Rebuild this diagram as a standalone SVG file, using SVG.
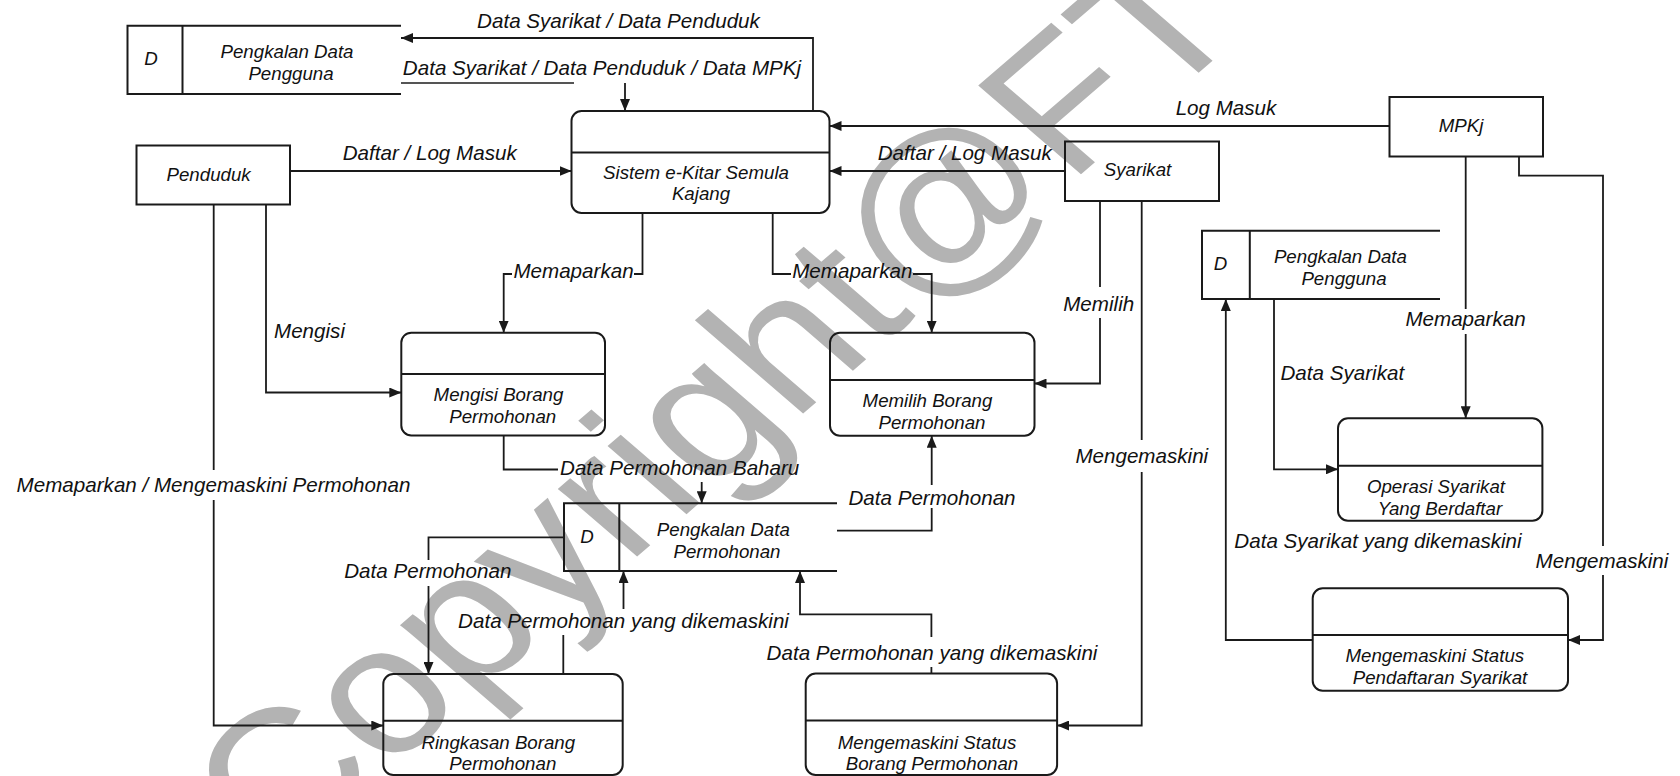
<svg xmlns="http://www.w3.org/2000/svg" width="1680" height="776" viewBox="0 0 1680 776">
<defs>
<style>
.ln{fill:none;stroke:#1a1a1a;stroke-width:1.8}
.bx{fill:none;stroke:#1a1a1a;stroke-width:2}
.nt{font-family:"Liberation Sans",Arial,sans-serif;font-style:italic;font-size:18.7px;fill:#111;text-anchor:middle}
.lb{font-family:"Liberation Sans",Arial,sans-serif;font-style:italic;font-size:20.6px;fill:#111;text-anchor:middle}
.wm{font-family:"Liberation Sans",Arial,sans-serif;font-size:182px;fill:#b3b3b3}
</style>
<marker id="ah" markerWidth="12" markerHeight="10" refX="12" refY="5" orient="auto" markerUnits="userSpaceOnUse"><path d="M0,0 L12,5 L0,10 z" fill="#1a1a1a"/></marker>
</defs>
<rect x="0" y="0" width="1680" height="776" fill="#fff"/>
<g id="watermark"><text class="wm" transform="scale(1.16,1) translate(240,866) rotate(-45)" x="0" y="0">Copyright@FT</text></g>

<g id="store-pengguna-1">
<path class="bx" d="M401,25.7 H127.5 V94 H401 M182.5,25.7 V94"/>
<text class="nt" x="151" y="65">D</text>
<text class="nt" x="287" y="58.3">Pengkalan Data</text>
<text class="nt" x="291" y="79.5">Pengguna</text>
</g>
<g id="sistem">
<rect class="bx" x="571.5" y="111" width="258" height="102" rx="10"/>
<path class="bx" d="M571.5,152.5 H829.5"/>
<text class="nt" x="696" y="178.5">Sistem e-Kitar Semula</text>
<text class="nt" x="701" y="200">Kajang</text>
</g>
<g id="penduduk">
<rect class="bx" x="136.5" y="145.5" width="153.5" height="59"/>
<text class="nt" x="208.6" y="181">Penduduk</text>
</g>
<g id="syarikat">
<rect class="bx" x="1065" y="141.5" width="154" height="59.5"/>
<text class="nt" x="1137.5" y="176">Syarikat</text>
</g>
<g id="mpkj">
<rect class="bx" x="1389.5" y="97" width="153.5" height="59.5"/>
<text class="nt" x="1461" y="132">MPKj</text>
</g>
<g id="mengisi">
<rect class="bx" x="401.3" y="332.7" width="203.7" height="102.8" rx="10"/>
<path class="bx" d="M401.3,374 H605"/>
<text class="nt" x="498.5" y="400.7">Mengisi Borang</text>
<text class="nt" x="502.7" y="422.7">Permohonan</text>
</g>
<g id="memilih">
<rect class="bx" x="830" y="332.7" width="204.5" height="103" rx="10"/>
<path class="bx" d="M830,380 H1034.5"/>
<text class="nt" x="927.5" y="406.7">Memilih Borang</text>
<text class="nt" x="932" y="428.5">Permohonan</text>
</g>
<g id="store-permohonan">
<path class="bx" d="M837,503.3 H564 V571 H837 M619.3,503.3 V571"/>
<text class="nt" x="587" y="542.5">D</text>
<text class="nt" x="723.3" y="536">Pengkalan Data</text>
<text class="nt" x="727" y="558">Permohonan</text>
</g>
<g id="ringkasan">
<rect class="bx" x="383.3" y="674" width="239.4" height="101" rx="10"/>
<path class="bx" d="M383.3,720.7 H622.7"/>
<text class="nt" x="498.3" y="748.7">Ringkasan Borang</text>
<text class="nt" x="502.8" y="770">Permohonan</text>
</g>
<g id="status-borang">
<rect class="bx" x="805.7" y="673.5" width="251.4" height="101.5" rx="10"/>
<path class="bx" d="M805.7,720.5 H1057.1"/>
<text class="nt" x="927" y="748.5">Mengemaskini Status</text>
<text class="nt" x="932" y="770">Borang Permohonan</text>
</g>
<g id="store-pengguna-2">
<path class="bx" d="M1440,230.7 H1202 V299 H1440 M1249.8,230.7 V299"/>
<text class="nt" x="1220.5" y="270">D</text>
<text class="nt" x="1340.4" y="263.3">Pengkalan Data</text>
<text class="nt" x="1344" y="285">Pengguna</text>
</g>
<g id="operasi">
<rect class="bx" x="1338" y="418.3" width="204.4" height="102.4" rx="10"/>
<path class="bx" d="M1338,465.7 H1542.4"/>
<text class="nt" x="1436" y="492.5">Operasi Syarikat</text>
<text class="nt" x="1440" y="514.5">Yang Berdaftar</text>
</g>
<g id="status-pendaftaran">
<rect class="bx" x="1312.7" y="588.3" width="255.3" height="102.4" rx="10"/>
<path class="bx" d="M1312.7,635 H1568"/>
<text class="nt" x="1434.8" y="662">Mengemaskini Status</text>
<text class="nt" x="1440" y="684">Pendaftaran Syarikat</text>
</g>

<g id="connectors">
<path class="ln" d="M813,111 V38 H401" marker-end="url(#ah)"/>
<path d="M401,83 H574" fill="none" stroke="#555" stroke-width="1.8"/>
<path class="ln" d="M625,83 V111" marker-end="url(#ah)"/>
<path class="ln" d="M290,171 H571.5" marker-end="url(#ah)"/>
<path class="ln" d="M1389.5,126 H829.5" marker-end="url(#ah)"/>
<path class="ln" d="M1065,171 H829.5" marker-end="url(#ah)"/>
<path class="ln" d="M642.5,213 V274 H634 M512,274 H503.7 V332.7" marker-end="url(#ah)"/>
<path class="ln" d="M772.7,213 V274 H791 M913,274 H931.7 V332.7" marker-end="url(#ah)"/>
<path class="ln" d="M266,204.5 V392.5 H401.3" marker-end="url(#ah)"/>
<path class="ln" d="M213.7,204.5 V470 M213.7,500 V725.5 H383.3" marker-end="url(#ah)"/>
<path class="ln" d="M503.7,435.5 V469.5 H558 M701.7,482 V503.3" marker-end="url(#ah)"/>
<path class="ln" d="M837,530.7 H931.7 V508 M931.7,485 V435.7" marker-end="url(#ah)"/>
<path class="ln" d="M564,537.3 H428.5 V560 M428.5,586 V674" marker-end="url(#ah)"/>
<path class="ln" d="M563.3,674 V635 M623.5,609 V571" marker-end="url(#ah)"/>
<path class="ln" d="M931.4,673.5 V667 M931.4,637 V614.3 H800 V571" marker-end="url(#ah)"/>
<path class="ln" d="M1100,201 V287 M1100,318 V383.5 H1034.5" marker-end="url(#ah)"/>
<path class="ln" d="M1141.7,201 V440 M1141.7,472 V725.5 H1057.1" marker-end="url(#ah)"/>
<path class="ln" d="M1465.7,156.5 V309 M1465.7,334 V418.3" marker-end="url(#ah)"/>
<path class="ln" d="M1274,299 V469.3 H1338" marker-end="url(#ah)"/>
<path class="ln" d="M1312.7,640 H1225.8 V299" marker-end="url(#ah)"/>
<path class="ln" d="M1519,156.5 V175.7 H1603 V546 M1603,575 V640 H1568" marker-end="url(#ah)"/>
<text class="lb" x="618.5" y="27.5">Data Syarikat / Data Penduduk</text>
<text class="lb" x="602" y="74.5">Data Syarikat / Data Penduduk / Data MPKj</text>
<text class="lb" x="429.7" y="159.5">Daftar / Log Masuk</text>
<text class="lb" x="1226" y="114.7">Log Masuk</text>
<text class="lb" x="964.7" y="159.5">Daftar / Log Masuk</text>
<text class="lb" x="573.5" y="278">Memaparkan</text>
<text class="lb" x="852.3" y="278">Memaparkan</text>
<text class="lb" x="309.5" y="338">Mengisi</text>
<text class="lb" x="1098.7" y="310.5">Memilih</text>
<text class="lb" x="1465.5" y="326">Memaparkan</text>
<text class="lb" x="1342.3" y="379.5">Data Syarikat</text>
<text class="lb" x="1141.8" y="463">Mengemaskini</text>
<text class="lb" x="213.5" y="492">Memaparkan / Mengemaskini Permohonan</text>
<text class="lb" x="679.7" y="474.5">Data Permohonan Baharu</text>
<text class="lb" x="932" y="504.5">Data Permohonan</text>
<text class="lb" x="427.8" y="578">Data Permohonan</text>
<text class="lb" x="623.5" y="628">Data Permohonan yang dikemaskini</text>
<text class="lb" x="932" y="659.5">Data Permohonan yang dikemaskini</text>
<text class="lb" x="1378" y="548">Data Syarikat yang dikemaskini</text>
<text class="lb" x="1602" y="568">Mengemaskini</text>
</g>
</svg>
